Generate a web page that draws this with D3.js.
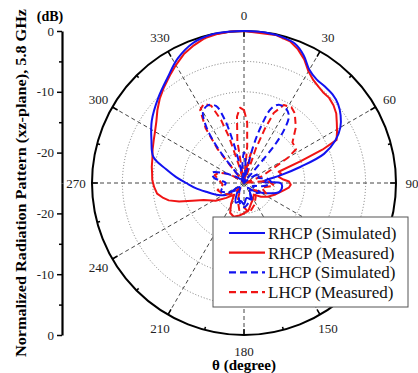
<!DOCTYPE html>
<html><head><meta charset="utf-8">
<script src="https://cdn.jsdelivr.net/npm/d3@7"></script>
<style>body{margin:0;background:#fff}svg{display:block}</style></head>
<body>
<script>
// ---------- data ----------
const angleTicks = [0,30,60,90,120,150,180,210,240,270,300,330];
const angleLabelTicks = [0,30,60,90,150,180,210,240,270,300,330]; // 120 is hidden under the legend
const dbTicks = [0,-10,-20];
const dbMinorTicks = [-5,-15];
const gridDb = [-5,-10,-15,-20];

const rhcpSimAng = [0,8,15,20,25,30,35,40,45,50,55,60,65,70,74,78,83,87,90,95,104,112,125,140,155,170,180,190,203,215,230,237,245,257,264,270,275,280,286,295,304,315,324,332,340,348,354];
const rhcpSimDb  = [0,0,-0.2,-0.6,-1.8,-3.5,-4.2,-4.3,-4.4,-4.8,-5.6,-6.7,-8.4,-11,-15.3,-18.8,-21.5,-22,-19,-18.7,-19,-20.5,-22.5,-23.5,-22,-22.5,-21.5,-22,-21.5,-23,-24,-21.4,-20.3,-18.6,-17,-15.5,-13.8,-12,-9.5,-8.2,-6.7,-5.1,-3.6,-1.8,-0.5,0,0];

const rhcpMeasAng = [0,6,12,18,22,26,30,34,38,41,45,49,53,57,61,65,67,69,72,76,80,85,88,92,96,100,110,120,129,140,150,160,170,180,188,197,205,212,220,230,238,247,251,254,257,259.5,263,267.5,272,276,280,285,290,295,300,305,310,315,320,326,330,335,340,345,350,355];
const rhcpMeasDb  = [0,-0.2,-0.1,-0.5,-1.3,-2.4,-3.8,-4.6,-5.0,-5.2,-5.2,-5.5,-6.0,-6.8,-7.5,-8.2,-11,-15,-19,-18.7,-19.2,-18.5,-17.6,-17.3,-17.6,-18.3,-19.5,-20.5,-21.4,-22.5,-22,-21.5,-20.5,-20,-19.6,-19.2,-19.6,-21,-22.5,-21.2,-19.5,-17.8,-16,-13.9,-12.3,-11.5,-10.6,-10.2,-9.9,-9.8,-9.6,-9.4,-9.0,-8.6,-8.1,-7.4,-6.4,-5.4,-4.5,-3.4,-2.6,-1.6,-0.9,-0.3,-0.1,0];

const lhcpSimAng = [0,3,6,10,12,14,17,20,24,30,34,37,39,41,50,60,70,80,90,100,110,120,130,140,150,160,170,180,190,200,210,220,230,240,250,260,270,280,288,295,305,315,320,323,326,330,335,340,343,345,347,350,355];
const lhcpSimDb  = [-20,-21,-23,-25,-25,-19,-15,-12,-10.9,-11,-11.8,-14,-17,-25,-24,-22,-22.5,-21,-20.5,-22,-23.5,-22,-22.5,-24,-23,-22,-21.5,-21,-21.5,-22.5,-23.5,-24,-23,-22,-21,-21.5,-22,-20,-19.5,-21,-23,-24,-25,-18,-14,-11.5,-10.9,-11.5,-14,-17.5,-22,-25,-22];

const lhcpMeasAng = [0,3,5,7,10,13,17,19,21,23,27,32,36,43,50,57,60,63,70,75,85,95,105,115,125,140,155,170,180,190,200,215,230,245,255,265,275,285,292,300,310,318,322,325,329,333,337,340,342,344,347,351,354,357];
const lhcpMeasDb  = [-13,-15,-19,-25,-22,-20,-25,-19,-15.5,-12.5,-10.6,-10.3,-10.8,-12.5,-14.6,-14.8,-16.6,-19.4,-22,-25,-21,-20,-22,-21,-23,-22,-21,-20,-21,-20.5,-22,-24,-22,-21,-20.5,-21.5,-21,-20,-20.5,-22,-24,-25,-18,-14,-11,-10.4,-11.2,-14,-17,-22,-25,-18,-14,-12.6];

const legendLabels = ["RHCP (Simulated)","RHCP (Measured)","LHCP (Simulated)","LHCP (Measured)"];

// ---------- layout ----------
const W = 418, H = 373, cx = 244, cy = 183, R = 152;
const BLUE = "#1212f0", RED = "#f01414";
const FONT = "'Liberation Serif','Times New Roman',serif";
const rad = d => d * Math.PI / 180;

const svg = d3.select("body").append("svg").attr("width", W).attr("height", H)
  .style("font-family", FONT);
svg.append("rect").attr("width", W).attr("height", H).attr("fill", "#fff");

const r = d3.scaleLinear().domain([-25, 0]).range([0, R]).clamp(true);
const g = svg.append("g").attr("transform", `translate(${cx},${cy})`);

// grid circles
g.selectAll("circle.grid").data(gridDb).join("circle")
  .attr("r", d => r(d)).attr("fill", "none")
  .attr("stroke", "#7a7a7a").attr("stroke-width", 1).attr("stroke-dasharray", "1,2");

// spokes
g.selectAll("line.spoke").data(angleTicks).join("line")
  .attr("x1", 0).attr("y1", 0)
  .attr("x2", d => R * Math.sin(rad(d))).attr("y2", d => -R * Math.cos(rad(d)))
  .attr("stroke", "#444").attr("stroke-width", 1).attr("stroke-dasharray", "4,3");

// outer circle
g.append("circle").attr("r", R).attr("fill", "none").attr("stroke", "#000").attr("stroke-width", 2);

// circle ticks
g.selectAll("line.ctick").data(d3.range(0, 360, 15)).join("line")
  .attr("x1", d => R * Math.sin(rad(d))).attr("y1", d => -R * Math.cos(rad(d)))
  .attr("x2", d => (R - (d % 30 === 0 ? 6 : 3)) * Math.sin(rad(d)))
  .attr("y2", d => -(R - (d % 30 === 0 ? 6 : 3)) * Math.cos(rad(d)))
  .attr("stroke", "#000").attr("stroke-width", 1.5);

// angle labels
g.selectAll("text.ang").data(angleLabelTicks).join("text")
  .attr("x", d => 168 * Math.sin(rad(d))).attr("y", d => -168 * Math.cos(rad(d)))
  .attr("dy", "0.35em").attr("text-anchor", "middle")
  .attr("font-size", 13).attr("fill", "#222").text(d => d);

// curves
const series = [
  {ang: rhcpMeasAng, db: rhcpMeasDb, color: RED, dash: null, curve: d3.curveLinearClosed},
  {ang: rhcpSimAng, db: rhcpSimDb, color: BLUE, dash: null, curve: d3.curveCatmullRomClosed.alpha(0.5)},
  {ang: lhcpMeasAng, db: lhcpMeasDb, color: RED, dash: "7,4", curve: d3.curveLinearClosed},
  {ang: lhcpSimAng, db: lhcpSimDb, color: BLUE, dash: "7,4", curve: d3.curveCatmullRomClosed.alpha(0.5)}
];
series.forEach(s => {
  const pts = s.ang.map((a, i) => [a, s.db[i]]);
  const line = d3.lineRadial().angle(d => rad(d[0])).radius(d => r(d[1])).curve(s.curve);
  g.append("path").attr("d", line(pts)).attr("fill", "none")
    .attr("stroke", s.color).attr("stroke-width", 2)
    .attr("stroke-dasharray", s.dash).attr("stroke-linejoin", "round");
});

// left axis (two halves)
const axX = 62;
const yTop = d3.scaleLinear().domain([-25, 0]).range([cy, cy - R]);
const yBot = d3.scaleLinear().domain([-25, 0]).range([cy, cy + R]);
[yTop, yBot].forEach(sc => {
  const ax = svg.append("g").attr("transform", `translate(${axX},0)`)
    .call(d3.axisLeft(sc).tickValues(dbTicks).tickSize(5).tickSizeOuter(0).tickPadding(3).tickFormat(d => String(d)));
  ax.select(".domain").attr("stroke-width", 2.2);
  ax.selectAll(".tick line").attr("stroke-width", 1.5);
  ax.selectAll(".tick text").attr("font-size", 13).attr("font-family", FONT).attr("fill", "#222");
  svg.append("g").attr("transform", `translate(${axX},0)`)
    .call(d3.axisLeft(sc).tickValues(dbMinorTicks).tickSize(3).tickSizeOuter(0).tickFormat(""))
    .call(a => a.select(".domain").remove())
    .selectAll(".tick line").attr("stroke-width", 1.5);
});

// titles
svg.append("text").attr("x", 50).attr("y", 21).attr("text-anchor", "middle")
  .attr("font-weight", "bold").attr("font-size", 14).text("(dB)");
svg.append("text").attr("transform", `translate(26,${cy}) rotate(-90)`)
  .attr("text-anchor", "middle").attr("font-weight", "bold").attr("font-size", 15)
  .attr("textLength", 348).attr("lengthAdjust", "spacingAndGlyphs")
  .text("Normalized Radiation Pattern (xz-plane), 5.8 GHz");
svg.append("text").attr("x", cx).attr("y", 370).attr("text-anchor", "middle")
  .attr("font-weight", "bold").attr("font-size", 15).text("θ (degree)");

// legend
const lg = svg.append("g");
lg.append("rect").attr("x", 213).attr("y", 217).attr("width", 195).attr("height", 90)
  .attr("fill", "#fff").attr("stroke", "#555").attr("stroke-width", 1);
const legendStyle = [[BLUE, null], [RED, null], [BLUE, "7,4"], [RED, "7,4"]];
legendLabels.forEach((t, i) => {
  const y = 233 + i * 19.7;
  lg.append("line").attr("x1", 229).attr("x2", 265).attr("y1", y).attr("y2", y)
    .attr("stroke", legendStyle[i][0]).attr("stroke-width", 2.2)
    .attr("stroke-dasharray", legendStyle[i][1]);
  lg.append("text").attr("x", 268).attr("y", y).attr("dy", "0.35em")
    .attr("font-size", 17).attr("fill", "#111").text(t);
});
</script>
</body></html>
